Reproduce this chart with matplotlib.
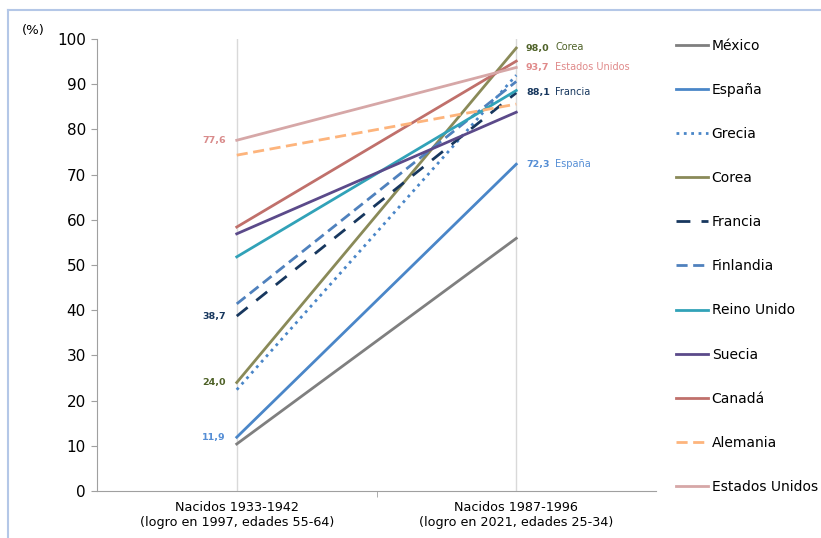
import numpy as np
import matplotlib.pyplot as plt
from matplotlib.lines import Line2D

categories = ["Nacidos 1933-1942\n(logro en 1997, edades 55-64)",
              "Nacidos 1987-1996\n(logro en 2021, edades 25-34)"]
countries = ["México", "España", "Grecia", "Corea", "Francia", "Finlandia",
             "Reino Unido", "Suecia", "Canadá", "Alemania", "Estados Unidos"]
old_cohort = [10.4, 11.9, 22.4, 24.0, 38.7, 41.4, 51.8, 56.9, 58.4, 74.3, 77.6]
young_cohort = [55.9, 72.3, 92.0, 98.0, 88.1, 90.6, 88.6, 83.8, 95.1, 85.6, 93.7]

colors = ["#7f7f7f", "#4a86c8", "#4a86c8", "#8a8a58", "#17375e", "#4f81bd",
          "#31a2b8", "#5b4a8a", "#c0706b", "#fdb47c", "#d6a7a7"]
styles = ["-", "-", ":", "-", (0, (5, 4)), (0, (4, 2)),
          "-", "-", "-", (0, (4, 2)), "-"]

left_labels = {"España": "#558ed5", "Corea": "#4f6228",
               "Francia": "#17375e", "Estados Unidos": "#d98b8b"}
right_labels = {"Corea": "#4f6228", "Estados Unidos": "#e08a8a",
                "Francia": "#17375e", "España": "#558ed5"}

fig = plt.figure(figsize=(8.21, 5.38), dpi=100)
ax = fig.add_axes([97 / 821, 1 - 491 / 538, 559 / 821, 452 / 538])

xpos = np.array([0.5, 1.5])
for i, name in enumerate(countries):
    ax.plot(xpos, [old_cohort[i], young_cohort[i]], color=colors[i],
            linestyle=styles[i], linewidth=2, label=name, zorder=3)

for name, col in left_labels.items():
    i = countries.index(name)
    ax.annotate(f"{old_cohort[i]:.1f}".replace(".", ","), (0.5, old_cohort[i]),
                xytext=(-8, 0), textcoords="offset points", ha="right",
                va="center", fontsize=6.8, fontweight="bold", color=col)
for name, col in right_labels.items():
    i = countries.index(name)
    ax.annotate(f"{young_cohort[i]:.1f}".replace(".", ","),
                (1.5, young_cohort[i]), xytext=(7, 0),
                textcoords="offset points", ha="left", va="center",
                fontsize=6.8, fontweight="bold", color=col)
    ax.annotate(name, (1.5, young_cohort[i]), xytext=(28, 0.5),
                textcoords="offset points", ha="left", va="center",
                fontsize=7, color=col)

ax.set_xlim(0, 2)
ax.set_ylim(0, 100)
ax.set_yticks(range(0, 101, 10))
ax.set_xticks(xpos)
ax.set_xticklabels(categories, fontsize=9.2)
ax.set_xticks([1.0], minor=True)
ax.tick_params(axis="x", which="major", length=0, pad=7)
ax.tick_params(axis="x", which="minor", length=4, color="#a0a0a0")
ax.tick_params(axis="y", length=4, color="#a0a0a0", labelsize=11, pad=4)
for x in xpos:
    ax.axvline(x, color="#d9d9d9", linewidth=1, zorder=1)
for s in ["top", "right"]:
    ax.spines[s].set_visible(False)
ax.spines["left"].set_color("#a0a0a0")
ax.spines["bottom"].set_color("#a0a0a0")

ax.text(-0.135, 1.005, "(%)", transform=ax.transAxes, fontsize=9.5,
        ha="left", va="bottom")

handles = [Line2D([0], [0], color=colors[i], linestyle=styles[i], linewidth=2)
           for i in range(len(countries))]
fig.legend(handles, countries, loc="upper left",
           bbox_to_anchor=(670 / 821, 1 - 33 / 538), frameon=False,
           fontsize=10, handlelength=2.3, handletextpad=0.3,
           labelspacing=2.17, borderaxespad=0)

# light frame edges visible in the source
fig.add_artist(Line2D([8 / 821, 1], [1 - 10 / 538, 1 - 10 / 538],
                      color="#b4c7e7", linewidth=1.5))
fig.add_artist(Line2D([8 / 821, 8 / 821], [0, 1 - 10 / 538],
                      color="#b4c7e7", linewidth=1.5))

fig.savefig("out.png", dpi=100)
